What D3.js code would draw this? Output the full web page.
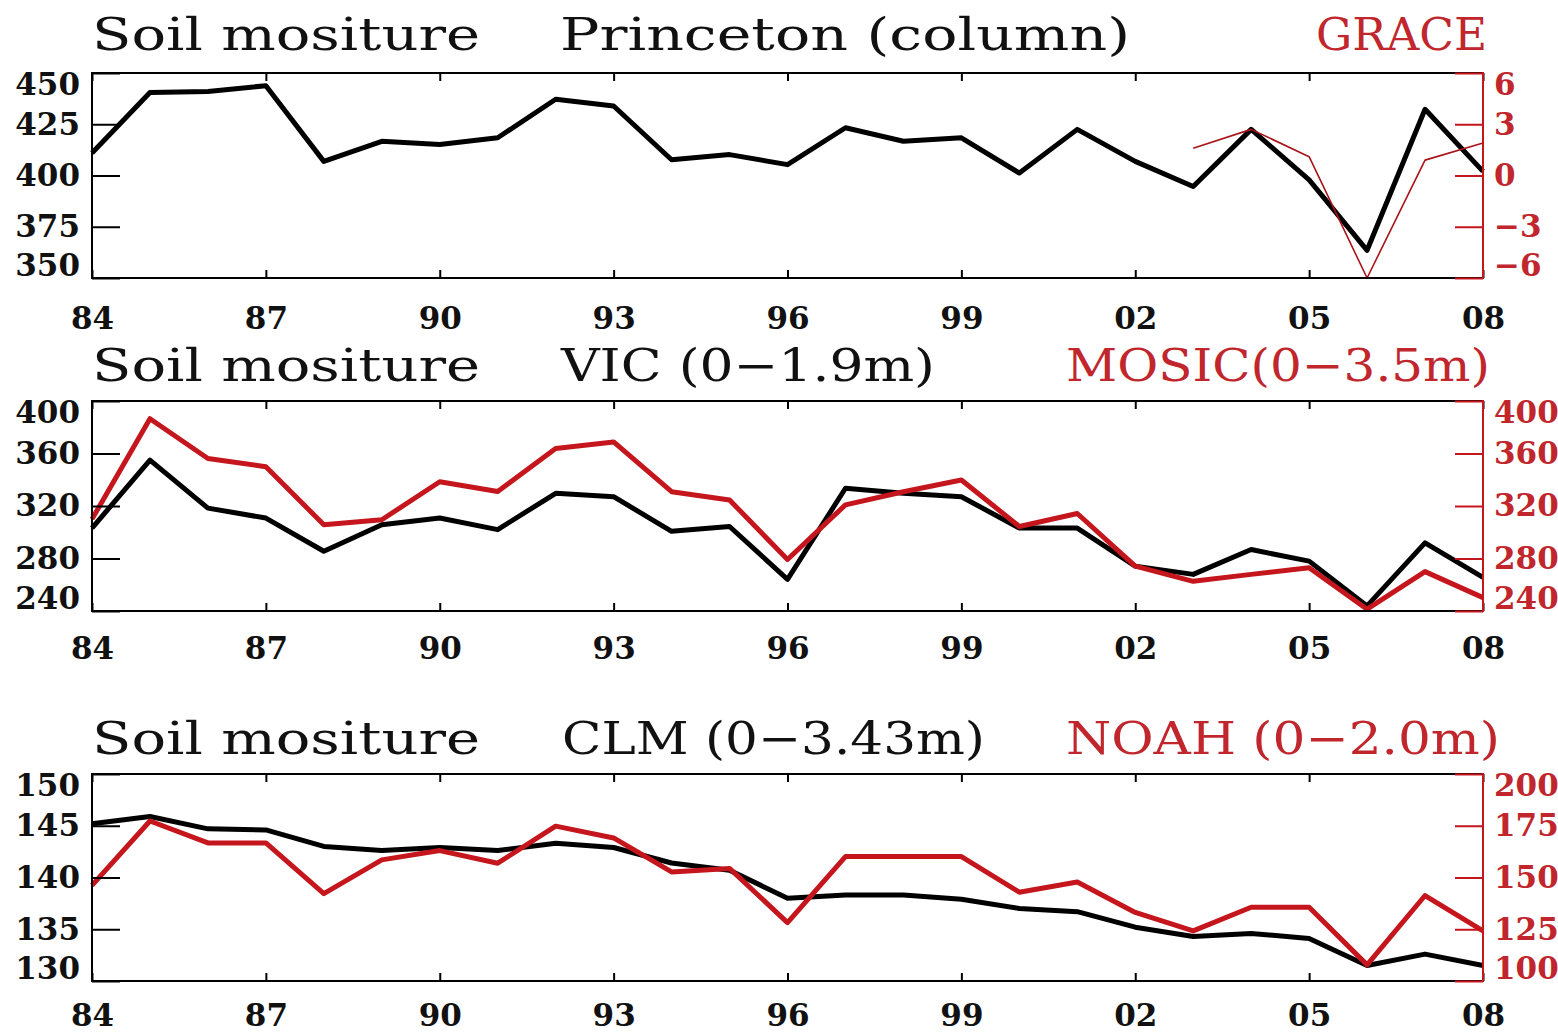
<!DOCTYPE html>
<html>
<head>
<meta charset="utf-8">
<script src="https://cdn.jsdelivr.net/npm/d3@7"></script>
<style>
  body { margin: 0; background: #fff; }
  svg { display: block; }
</style>
</head>
<body>
<svg id="chart" width="1558" height="1032"></svg>
<script>
// ---- data -------------------------------------------------------------
const years = [1984, 1985, 1986, 1987, 1988, 1989, 1990, 1991, 1992, 1993, 1994, 1995,
               1996, 1997, 1998, 1999, 2000, 2001, 2002, 2003, 2004, 2005, 2006, 2007, 2008];
const xTickYears = [1984, 1987, 1990, 1993, 1996, 1999, 2002, 2005, 2008];
const xTickLabels = ["84", "87", "90", "93", "96", "99", "02", "05", "08"];

// Princeton column soil moisture (left axis) and GRACE anomaly (right axis)
const princeton = [411.0, 440.5, 441.0, 443.8, 406.9, 416.7, 415.1, 418.4, 437.2, 433.9, 407.7, 410.2,
                   405.3, 423.3, 416.7, 418.4, 401.2, 422.5, 406.9, 394.6, 422.5, 397.9, 363.5, 432.3, 402.0];
const graceYears = [2003, 2004, 2005, 2006, 2007, 2008];
const grace = [1.6, 2.7, 1.1, -6.0, 0.9, 1.9];

// VIC (0-1.9m) and MOSIC (0-3.5m)
const vic = [303.2, 354.9, 318.4, 310.8, 285.5, 305.7, 310.8, 302.0, 329.7, 327.1, 300.7, 304.4,
             264.1, 333.5, 329.7, 327.1, 303.2, 303.2, 274.2, 267.9, 286.8, 278.0, 243.9, 291.9, 265.6];
const mosic = [310.0, 386.5, 356.2, 349.9, 305.7, 309.5, 338.5, 331.0, 363.8, 368.8, 330.9, 324.6,
               279.2, 320.9, 330.9, 339.8, 304.4, 314.3, 274.2, 262.6, 267.9, 272.9, 241.4, 270.0, 250.2];

// CLM (0-3.43m) and NOAH (0-2.0m)
const clm = [145.2, 145.9, 144.7, 144.6, 143.0, 142.6, 142.9, 142.6, 143.3, 142.9, 141.4, 140.7,
             138.0, 138.3, 138.3, 137.9, 137.0, 136.7, 135.2, 134.3, 134.6, 134.1, 131.5, 132.6, 131.5];
const noah = [146.2, 177.3, 166.7, 166.7, 142.2, 158.5, 163.0, 156.9, 174.8, 169.1, 152.7, 154.4,
              128.2, 160.1, 160.1, 160.1, 142.9, 147.8, 133.1, 124.2, 135.6, 135.6, 107.8, 141.3, 124.2];

// axis ticks
const princetonTicks = [350, 375, 400, 425, 450];
const graceTicks = [-6, -3, 0, 3, 6];
const vicTicks = [240, 280, 320, 360, 400];
const mosicTicks = [240, 280, 320, 360, 400];
const clmTicks = [130, 135, 140, 145, 150];
const noahTicks = [100, 125, 150, 175, 200];

// panel headings: [label, model (black), model (red)]
const titles1 = ["Soil mositure", "Princeton (column)", "GRACE"];
const titles2 = ["Soil mositure", "VIC (0\u22121.9m)", "MOSIC(0\u22123.5m)"];
const titles3 = ["Soil mositure", "CLM (0\u22123.43m)", "NOAH (0\u22122.0m)"];

// ---- layout -----------------------------------------------------------
const RED = "#c4161c";
const RED_TEXT = "#c0262c";
const X0 = 92, X1 = 1483;
const tickFont = "'DejaVu Serif', serif";

const svg = d3.select("#chart");
const x = d3.scaleLinear().domain([1984, 2008]).range([X0, X1]);

const panels = [
  {
    top: 73, bottom: 278, titleY: 50, labelGap: 40,
    titles: titles1,
    titleBoxes: [[92, 388], [560, 570], [1316, 171]],
    left: { domain: [350, 450], ticks: princetonTicks, values: princeton, years: years, width: 5 },
    right: { domain: [-6, 6], ticks: graceTicks, values: grace, years: graceYears, width: 1.6, color: "#a8141a" }
  },
  {
    top: 401, bottom: 611, titleY: 381, labelGap: 37,
    titles: titles2,
    titleBoxes: [[92, 388], [561, 374], [1066, 424]],
    left: { domain: [240, 400], ticks: vicTicks, values: vic, years: years, width: 5 },
    right: { domain: [240, 400], ticks: mosicTicks, values: mosic, years: years, width: 5, color: RED }
  },
  {
    top: 774, bottom: 981, titleY: 754, labelGap: 34,
    titles: titles3,
    titleBoxes: [[92, 388], [562, 423], [1066, 434]],
    left: { domain: [130, 150], ticks: clmTicks, values: clm, years: years, width: 5 },
    right: { domain: [100, 200], ticks: noahTicks, values: noah, years: years, width: 5, color: RED }
  }
];

const fmtSigned = v => (v < 0 ? "\u2212" + Math.abs(v) : String(v));

panels.forEach(p => {
  const g = svg.append("g");
  const yL = d3.scaleLinear().domain(p.left.domain).range([p.bottom, p.top]);
  const yR = d3.scaleLinear().domain(p.right.domain).range([p.bottom, p.top]);

  // headings
  const colors = ["#111", "#111", RED_TEXT];
  p.titles.forEach((t, i) => {
    g.append("text")
      .attr("x", p.titleBoxes[i][0])
      .attr("y", p.titleY)
      .attr("textLength", p.titleBoxes[i][1])
      .attr("lengthAdjust", "spacingAndGlyphs")
      .style("font-family", tickFont)
      .style("font-size", "45px")
      .style("fill", colors[i])
      .text(t);
  });

  // series (black first, red on top)
  const lineL = d3.line().x((d, i) => x(p.left.years[i])).y(d => yL(d));
  const lineR = d3.line().x((d, i) => x(p.right.years[i])).y(d => yR(d));
  const clipId = "clip" + p.top;
  g.append("clipPath").attr("id", clipId)
    .append("rect").attr("x", X0 - 3).attr("y", p.top - 3)
    .attr("width", X1 - X0 + 6).attr("height", p.bottom - p.top + 6);
  const series = g.append("g").attr("clip-path", `url(#${clipId})`);
  series.append("path").datum(p.left.values)
    .attr("d", lineL).attr("fill", "none").attr("stroke", "#000")
    .attr("stroke-width", p.left.width).attr("stroke-linejoin", "round");
  series.append("path").datum(p.right.values)
    .attr("d", lineR).attr("fill", "none").attr("stroke", p.right.color)
    .attr("stroke-width", p.right.width).attr("stroke-linejoin", "round");

  // frame
  g.append("path")
    .attr("d", `M${X1},${p.top}H${X0}V${p.bottom}H${X1}`)
    .attr("fill", "none").attr("stroke", "#000").attr("stroke-width", 2);

  // bottom x axis with year labels
  const xb = g.append("g").attr("transform", `translate(0,${p.bottom})`)
    .call(d3.axisBottom(x).tickValues(xTickYears)
      .tickFormat((d, i) => xTickLabels[i]).tickSizeInner(-8).tickSizeOuter(0));
  xb.select(".domain").remove();
  xb.selectAll("line").attr("stroke", "#000").attr("stroke-width", 2);
  xb.selectAll("text").attr("y", p.labelGap).attr("dy", "0.36em")
    .style("font-family", tickFont).style("font-weight", "bold")
    .style("font-size", "31px").style("fill", "#111");

  // top x axis, ticks only
  const xt = g.append("g").attr("transform", `translate(0,${p.top})`)
    .call(d3.axisTop(x).tickValues(xTickYears).tickFormat("").tickSizeInner(-8).tickSizeOuter(0));
  xt.select(".domain").remove();
  xt.selectAll("line").attr("stroke", "#000").attr("stroke-width", 2);

  // left y axis
  const ya = g.append("g").attr("transform", `translate(${X0},0)`)
    .call(d3.axisLeft(yL).tickValues(p.left.ticks).tickSizeInner(-28).tickSizeOuter(0).tickPadding(12));
  ya.select(".domain").remove();
  ya.selectAll("line").attr("stroke", "#000").attr("stroke-width", 2);
  ya.selectAll("text")
    .attr("y", d => Math.max(p.top + 12, Math.min(p.bottom - 12, yL(d))) - yL(d))
    .style("font-family", tickFont).style("font-weight", "bold")
    .style("font-size", "31px").style("fill", "#111");

  // right y axis (red)
  const yr = g.append("g").attr("transform", `translate(${X1},0)`)
    .call(d3.axisRight(yR).tickValues(p.right.ticks).tickFormat(fmtSigned)
      .tickSizeInner(-28).tickSizeOuter(0).tickPadding(11));
  yr.select(".domain").remove();
  yr.selectAll("line").attr("stroke", RED).attr("stroke-width", 2);
  yr.selectAll("text")
    .attr("y", d => Math.max(p.top + 12, Math.min(p.bottom - 12, yR(d))) - yR(d))
    .style("font-family", tickFont).style("font-weight", "bold")
    .style("font-size", "31px").style("fill", RED_TEXT);
  g.append("line")
    .attr("x1", X1).attr("x2", X1).attr("y1", p.top - 1).attr("y2", p.bottom + 1)
    .attr("stroke", RED).attr("stroke-width", 2);
});
</script>
</body>
</html>
